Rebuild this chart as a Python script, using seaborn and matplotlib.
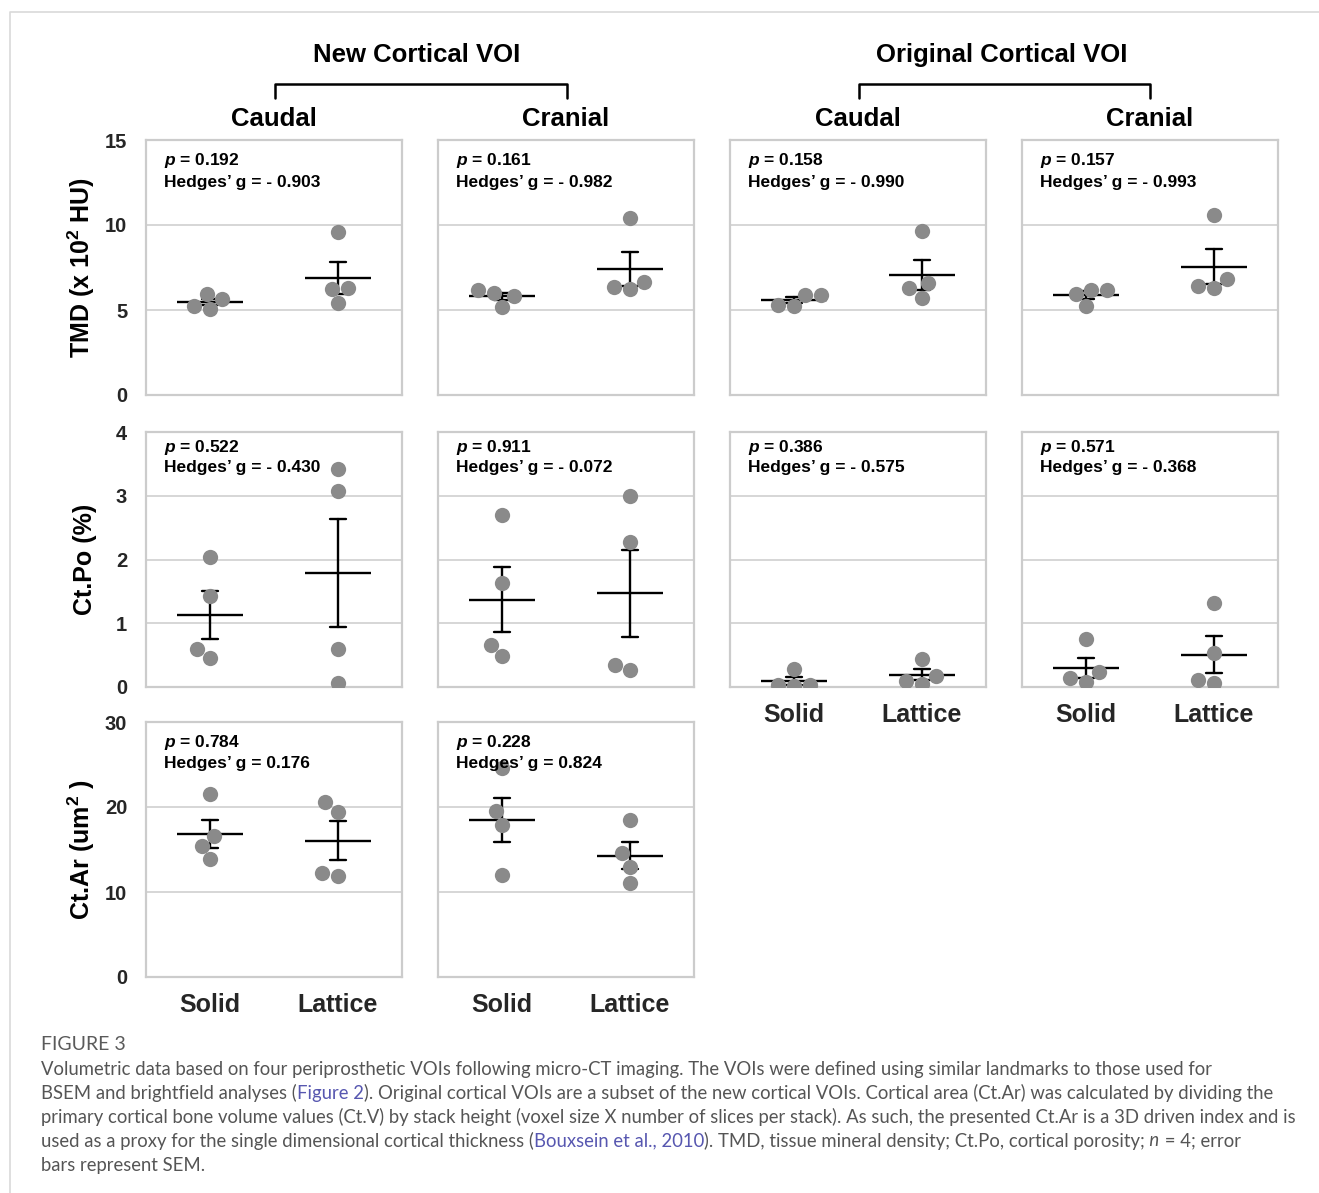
import matplotlib
matplotlib.use('Agg')
import matplotlib.pyplot as plt
from matplotlib import font_manager
from matplotlib.lines import Line2D
import seaborn as sns
import pandas as pd

groups = ['Solid', 'Lattice']
regions = ['Caudal', 'Cranial', 'Caudal', 'Cranial']

# panel order: new cortical caudal, new cortical cranial, original caudal, original cranial
tmd_solid = [
    [5.94, 5.24, 5.04, 5.65],
    [5.82, 5.20, 5.98, 6.18],
    [5.31, 5.24, 5.90, 5.90],
    [5.94, 6.18, 6.18, 5.25],
]
tmd_lattice = [
    [9.61, 6.22, 6.27, 5.39],
    [10.39, 6.37, 6.24, 6.63],
    [9.63, 6.29, 6.57, 5.73],
    [10.61, 6.43, 6.31, 6.84],
]
tmd_p = ['0.192', '0.161', '0.158', '0.157']
tmd_g = ['- 0.903', '- 0.982', '- 0.990', '- 0.993']

po_solid = [
    [2.04, 1.42, 0.60, 0.46],
    [2.70, 1.63, 0.66, 0.48],
    [0.28, 0.03, 0.02, 0.03],
    [0.75, 0.23, 0.14, 0.08],
]
po_lattice = [
    [3.42, 3.08, 0.59, 0.06],
    [2.99, 2.27, 0.35, 0.26],
    [0.44, 0.10, 0.17, 0.05],
    [1.32, 0.54, 0.11, 0.06],
]
po_p = ['0.522', '0.911', '0.386', '0.571']
po_g = ['- 0.430', '- 0.072', '- 0.575', '- 0.368']

# Ct.Ar only measured for the new cortical VOIs
ar_solid = [
    [21.58, 16.58, 15.40, 13.86],
    [24.53, 19.49, 17.83, 12.05],
]
ar_lattice = [
    [20.55, 19.45, 12.20, 11.93],
    [18.51, 14.57, 13.00, 11.07],
]
ar_p = ['0.784', '0.228']
ar_g = ['0.176', '0.824']

sns.set_style('whitegrid')
plt.rcParams['font.family'] = ['Liberation Sans', 'DejaVu Sans']
plt.rcParams['font.weight'] = 'bold'
plt.rcParams['axes.titleweight'] = 'bold'
plt.rcParams['axes.labelweight'] = 'bold'
plt.rcParams['mathtext.fontset'] = 'custom'
plt.rcParams['mathtext.rm'] = 'Liberation Sans:bold'
plt.rcParams['mathtext.it'] = 'Liberation Sans:italic:bold'
plt.rcParams['mathtext.bf'] = 'Liberation Sans:bold'
plt.rcParams['axes.linewidth'] = 1.6
plt.rcParams['grid.linewidth'] = 1.1

W, H = 1319, 1193
fig = plt.figure(figsize=(W / 100, H / 100), dpi=100, facecolor='white')

col_x = [146, 438, 730, 1022]
row_y = [140, 432, 722]

rows = [
    dict(solid=tmd_solid, lattice=tmd_lattice, p=tmd_p, g=tmd_g, ylim=(0, 15),
         ticks=[0, 5, 10, 15], label='TMD (x 10$^\\mathbf{2}$ HU)', ty=(0.918, 0.835)),
    dict(solid=po_solid, lattice=po_lattice, p=po_p, g=po_g, ylim=(0, 4),
         ticks=[0, 1, 2, 3, 4], label='Ct.Po (%)', ty=(0.941, 0.859)),
    dict(solid=ar_solid, lattice=ar_lattice, p=ar_p, g=ar_g, ylim=(0, 30),
         ticks=[0, 10, 20, 30], label='Ct.Ar (um$^\\mathbf{2}$ )', ty=(0.921, 0.839)),
]


def draw_panel(ax, solid, lattice):
    df = pd.DataFrame({'group': ['Solid'] * len(solid) + ['Lattice'] * len(lattice),
                       'value': solid + lattice})
    sns.swarmplot(data=df, x='group', y='value', order=groups, color='#8a8a8a',
                  size=11, linewidth=0, ax=ax)
    sns.pointplot(data=df, x='group', y='value', order=groups, errorbar='se',
                  capsize=0.125, color='black', marker='_', markersize=47,
                  markeredgewidth=1.7, linestyle='none', linewidth=1.7, ax=ax)
    ax.set_xlim(-0.5, 1.5)
    ax.set_xlabel('')
    ax.set_ylabel('')


for r, row in enumerate(rows):
    for c in range(len(row['solid'])):
        ax = fig.add_axes([col_x[c] / W, 1 - (row_y[r] + 255) / H, 256 / W, 255 / H])
        draw_panel(ax, row['solid'][c], row['lattice'][c])
        ax.set_ylim(*row['ylim'])
        ax.set_yticks(row['ticks'])
        ax.xaxis.grid(False)
        ax.tick_params(axis='y', labelsize=14.5, pad=10, labelleft=(c == 0))
        last_in_col = (r == 2) or (r == 1 and c >= 2)
        ax.tick_params(axis='x', labelsize=18, pad=8, labelbottom=last_in_col)
        ax.text(0.07, row['ty'][0], '$p$ = ' + row['p'][c], transform=ax.transAxes,
                fontsize=12.5, color='black', va='center')
        ax.text(0.07, row['ty'][1], 'Hedges\u2019 g = ' + row['g'][c], transform=ax.transAxes,
                fontsize=12.5, color='black', va='center')
        if c == 0:
            ax.set_ylabel(row['label'], fontsize=18, fontweight='bold', color='black')
            ax.yaxis.set_label_coords(-0.19, 0.5)
        if r == 0:
            ax.set_title(regions[c], fontsize=18.5, fontweight='bold', color='black', pad=10)

# group headers with brackets
for name, cx, x0, x1 in [('New Cortical VOI', 417, 275, 567),
                         ('Original Cortical VOI', 1002, 859, 1150)]:
    fig.text(cx / W, 1 - 55 / H, name, ha='center', va='center', fontsize=18.5,
             fontweight='bold', color='black')
    fig.add_artist(Line2D([x0 / W, x0 / W, x1 / W, x1 / W],
                          [1 - 98 / H, 1 - 84 / H, 1 - 84 / H, 1 - 98 / H],
                          color='black', lw=1.8, transform=fig.transFigure))

# card border
fig.add_artist(Line2D([10 / W, 10 / W, 1], [0, 1 - 12 / H, 1 - 12 / H],
                      color='#d9d9d9', lw=1.2, transform=fig.transFigure))

# caption
names = {f.name for f in font_manager.fontManager.ttflist}
cap_family = 'Liberation Sans Narrow' if 'Liberation Sans Narrow' in names else 'Lato'
renderer = fig.canvas.get_renderer()


def width_px(s, size, style='normal'):
    t = fig.text(0, 0, s, fontsize=size, family=cap_family, fontweight='normal', style=style)
    w = t.get_window_extent(renderer).width
    t.remove()
    return w


text_c = '#555555'
link_c = '#5757b0'
cap_lines = [
    [('Volumetric data based on four periprosthetic VOIs following micro-CT imaging. '
      'The VOIs were defined using similar landmarks to those used for', text_c, 'normal')],
    [('BSEM and brightfield analyses (', text_c, 'normal'), ('Figure 2', link_c, 'normal'),
     ('). Original cortical VOIs are a subset of the new cortical VOIs. Cortical area (Ct.Ar) '
      'was calculated by dividing the', text_c, 'normal')],
    [('primary cortical bone volume values (Ct.V) by stack height (voxel size X number of '
      'slices per stack). As such, the presented Ct.Ar is a 3D driven index and is', text_c, 'normal')],
    [('used as a proxy for the single dimensional cortical thickness (', text_c, 'normal'),
     ('Bouxsein et al., 2010', link_c, 'normal'),
     ('). TMD, tissue mineral density; Ct.Po, cortical porosity;', text_c, 'normal'),
     (' n', text_c, 'italic'), (' = 4; error', text_c, 'normal')],
    [('bars represent SEM.', text_c, 'normal')],
]

longest = max(width_px(''.join(p[0] for p in parts), 10) for parts in cap_lines)
cap_size = min(13.5, 10 * 1258 / longest)

fig.text(41 / W, 1 - 1045 / H, 'FIGURE 3', fontsize=cap_size * 1.05, family=cap_family,
         fontweight='normal', color='#5a5a5a', va='center')

bar_w = width_px('|', cap_size)
for i, parts in enumerate(cap_lines):
    y = 1069 + 24 * i
    prefix = ''
    for s, col, style in parts:
        x = 41
        if prefix:
            x += width_px(prefix + '|', cap_size) - bar_w
        fig.text(x / W, 1 - y / H, s, fontsize=cap_size, family=cap_family,
                 fontweight='normal', style=style, color=col, va='center')
        prefix += s

fig.savefig('out.png', dpi=100, facecolor='white')
